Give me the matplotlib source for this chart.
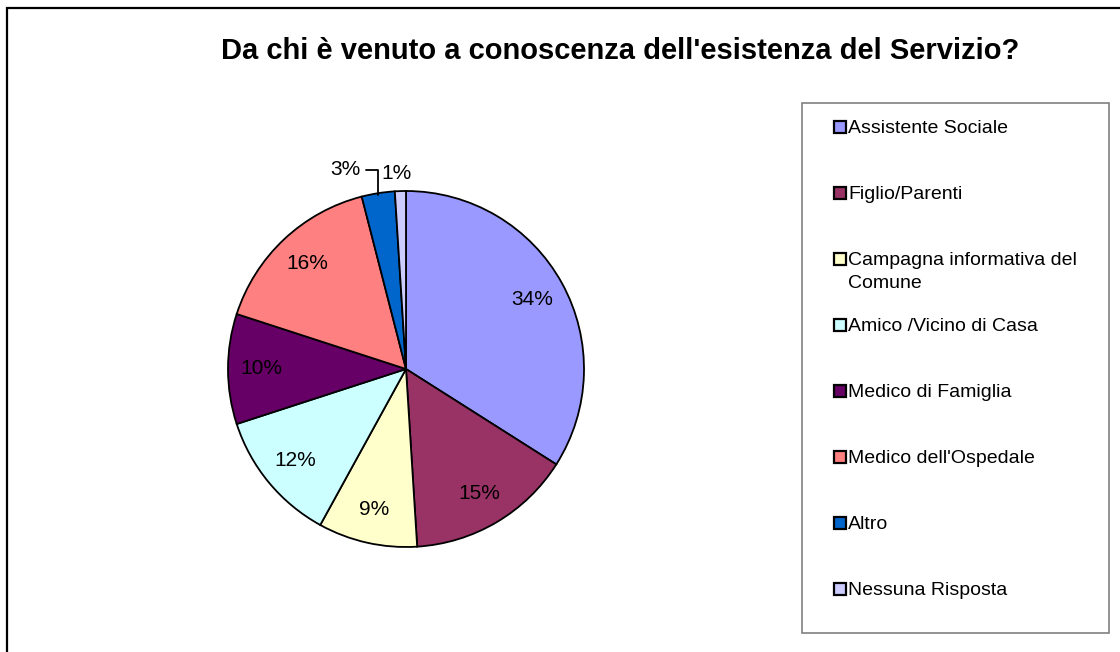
import matplotlib

matplotlib.use("Agg")
import matplotlib.pyplot as plt
from matplotlib.patches import Rectangle
import numpy as np

plt.rcParams["font.family"] = ["Liberation Sans", "DejaVu Sans"]

# data
categories = [
    "Assistente Sociale",
    "Figlio/Parenti",
    "Campagna informativa del\nComune",
    "Amico /Vicino di Casa",
    "Medico di Famiglia",
    "Medico dell'Ospedale",
    "Altro",
    "Nessuna Risposta",
]
percent = [34, 15, 9, 12, 10, 16, 3, 1]
colors = ["#9999FF", "#993366", "#FFFFCC", "#CCFFFF", "#660066", "#FF8080", "#0066CC", "#CCCCFF"]
title = "Da chi è venuto a conoscenza dell'esistenza del Servizio?"

W, H = 1120, 652
fig = plt.figure(figsize=(W / 100, H / 100), dpi=100)


def fx(px):
    return px / W


def fy(py):
    return 1 - py / H


# outer chart frame (cut at right/bottom like the reference)
fig.patches.append(Rectangle((fx(7), fy(H + 20)), fx(W + 40), fy(8) - fy(H + 20),
                             transform=fig.transFigure, fill=False,
                             edgecolor="black", linewidth=1.6))

fig.text(fx(620), fy(59), title, ha="center", va="baseline",
         fontsize=21, fontweight="bold")

# pie
cx, cy, r = 406, 369, 178
ax = fig.add_axes([fx(cx - r), fy(cy + r), fx(2 * r), fy(cy - r) - fy(cy + r)])
wedges, _ = ax.pie(percent, colors=colors, startangle=90, counterclock=False,
                   wedgeprops=dict(edgecolor="black", linewidth=1.3))
ax.set_xlim(-1, 1)
ax.set_ylim(-1, 1)
ax.set_aspect("equal")
ax.axis("off")

for w, p in zip(wedges, percent):
    ang = np.deg2rad((w.theta1 + w.theta2) / 2)
    c, s = np.cos(ang), np.sin(ang)
    if p >= 5:
        ax.text(0.81 * c, 0.81 * s, f"{p}%", ha="center", va="center", fontsize=15)
    elif p >= 2:
        ax.annotate(f"{p}%", xy=(0.99 * c, 0.99 * s), xytext=(0.99 * c - 0.10, 1.12),
                    ha="right", va="center", fontsize=15,
                    arrowprops=dict(arrowstyle="-", color="black", lw=1.3,
                                    shrinkA=2, shrinkB=0,
                                    connectionstyle="angle,angleA=0,angleB=90,rad=0"))
    else:
        ax.text(1.10 * c - 0.02, 1.10 * s, f"{p}%", ha="center", va="center", fontsize=15)

# legend drawn by hand to keep Excel's even row spacing
lx0, ly0, lx1, ly1 = 802, 103, 1109, 633
fig.patches.append(Rectangle((fx(lx0), fy(ly1)), fx(lx1 - lx0), fy(ly0) - fy(ly1),
                             transform=fig.transFigure, fill=False,
                             edgecolor="#808080", linewidth=1.2))
row0, step, sq = 127, 66.0, 12
for i, (lab, col) in enumerate(zip(categories, colors)):
    yy = row0 + i * step
    fig.patches.append(Rectangle((fx(834), fy(yy + sq / 2)), fx(sq), fy(yy - sq / 2) - fy(yy + sq / 2),
                                 transform=fig.transFigure, facecolor=col,
                                 edgecolor="black", linewidth=1.6))
    fig.text(fx(848), fy(yy - 7), lab, ha="left", va="top", fontsize=14,
             linespacing=1.45)

fig.savefig("out.png", dpi=100, facecolor="white")
